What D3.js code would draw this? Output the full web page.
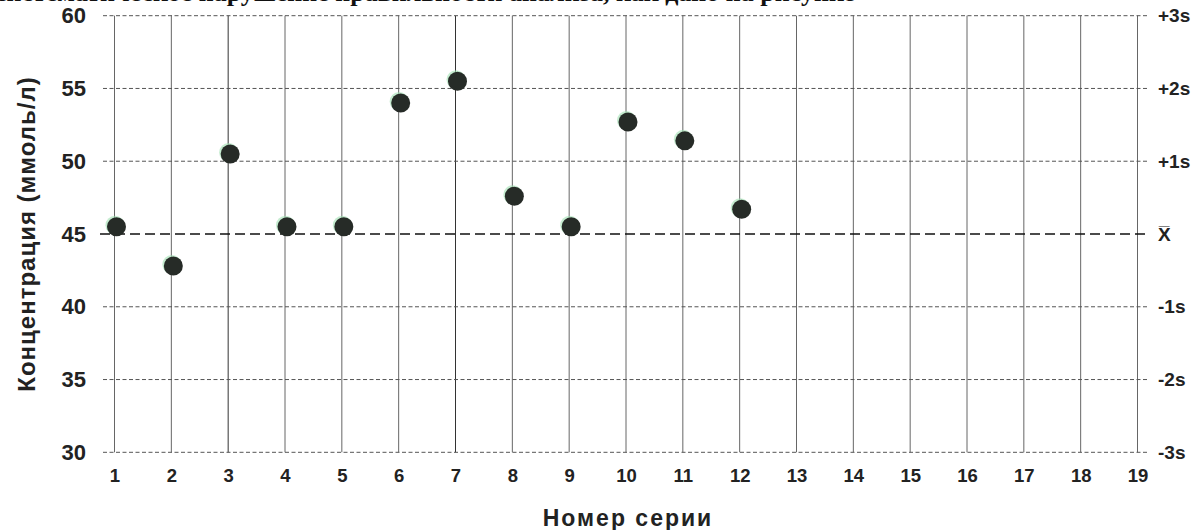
<!DOCTYPE html>
<html><head><meta charset="utf-8">
<script src="https://cdn.jsdelivr.net/npm/d3@7"></script>
<style>html,body{margin:0;padding:0;background:#fff;overflow:hidden}</style>
</head><body>
<svg id="c" width="1198" height="530"></svg>
<script>
const series = [1,2,3,4,5,6,7,8,9,10,11,12,13,14,15,16,17,18,19];
const seriesWithValues = [1,2,3,4,5,6,7,8,9,10,11,12];
const concentration = [45.5,42.8,50.5,45.5,45.5,54.0,55.5,47.6,45.5,52.7,51.4,46.7];
const yTicks = [30,35,40,45,50,55,60];
const meanValue = 45;
const sdValue = 5;
const sdLabels = [
  {k:3, t:"+3s"},{k:2, t:"+2s"},{k:1, t:"+1s"},{k:0, t:"X̅"},
  {k:-1, t:"-1s"},{k:-2, t:"-2s"},{k:-3, t:"-3s"}
];
const yTitle = "Концентрация (ммоль/л)";
const xTitle = "Номер серии";
const topText = "систематическое нарушение правильности анализа, как дано на рисунке";

const svg = d3.select("#c");
const x = d3.scaleLinear().domain([1,19]).range([114.5,1137.5]);
const y = d3.scaleLinear().domain([30,60]).range([452.3,15.7]);
const font = "'Liberation Sans', Arial, Helvetica, sans-serif";

// cut-off heading at top (only the bottoms of the glyphs are visible)
svg.append("text").attr("x", -5).attr("y", 1)
  .attr("font-family","'Liberation Serif','Times New Roman',serif")
  .attr("font-weight","bold").attr("font-size",26).attr("fill","#111")
  .text(topText);

// vertical grid lines
svg.append("g").selectAll("line").data(series).join("line")
  .attr("x1", d=>x(d)).attr("x2", d=>x(d))
  .attr("y1", y(60)).attr("y2", y(30))
  .attr("stroke", d => (d===3||d===7)? "#333":"#666").attr("stroke-width",1);

// horizontal dashed lines
svg.append("g").selectAll("line").data(yTicks.filter(v=>v!==meanValue)).join("line")
  .attr("x1", 103).attr("x2", 1148)
  .attr("y1", d=>y(d)).attr("y2", d=>y(d))
  .attr("stroke","#555").attr("stroke-width",1).attr("stroke-dasharray","4,2.5");

// mean line
svg.append("line")
  .attr("x1", 100).attr("x2", 1146)
  .attr("y1", y(meanValue)).attr("y2", y(meanValue))
  .attr("stroke","#111").attr("stroke-width",1.6).attr("stroke-dasharray","10,5");

// left axis labels
const yAxis = d3.axisLeft(y).tickValues(yTicks).tickSize(0).tickPadding(0);
const gy = svg.append("g").attr("transform","translate(86,0)").call(yAxis);
gy.select(".domain").remove();
gy.selectAll("text").attr("font-family",font).attr("font-weight","bold")
  .attr("font-size",22).attr("fill","#222");

// bottom axis labels
const xAxis = d3.axisBottom(x).tickValues(series).tickSize(0).tickPadding(0).tickFormat(d3.format("d"));
const gx = svg.append("g").attr("transform","translate(0,469)").call(xAxis);
gx.select(".domain").remove();
gx.selectAll("text").attr("font-family",font).attr("font-weight","bold")
  .attr("font-size",18.5).attr("fill","#222");

// right sd labels
svg.append("g").selectAll("text").data(sdLabels).join("text")
  .attr("x", 1158).attr("y", d=>y(meanValue + d.k*sdValue)).attr("dy","0.35em")
  .attr("font-family",font).attr("font-weight","bold").attr("font-size",19).attr("fill","#222")
  .text(d=>d.t);

// titles
svg.append("text").attr("transform",`translate(35,${y(45)}) rotate(-90)`)
  .attr("text-anchor","middle").attr("font-family",font).attr("font-weight","bold")
  .attr("font-size",24).attr("letter-spacing",1).attr("fill","#222").text(yTitle);
svg.append("text").attr("x", 628).attr("y", 526)
  .attr("text-anchor","middle").attr("font-family",font).attr("font-weight","bold")
  .attr("font-size",23).attr("letter-spacing",2).attr("fill","#222").text(xTitle);

// points
const pts = seriesWithValues.map((s,i)=>({s, v:concentration[i]}));
svg.append("g").selectAll("circle.h").data(pts).join("circle")
  .attr("cx", d=>x(d.s)+0.5).attr("cy", d=>y(d.v)-1.5).attr("r",9.5)
  .attr("fill","#9fe0b0").attr("opacity",0.6);
svg.append("g").selectAll("circle.p").data(pts).join("circle")
  .attr("cx", d=>x(d.s)+2).attr("cy", d=>y(d.v)).attr("r",9.5)
  .attr("fill","#262b27");
</script>
</body></html>
